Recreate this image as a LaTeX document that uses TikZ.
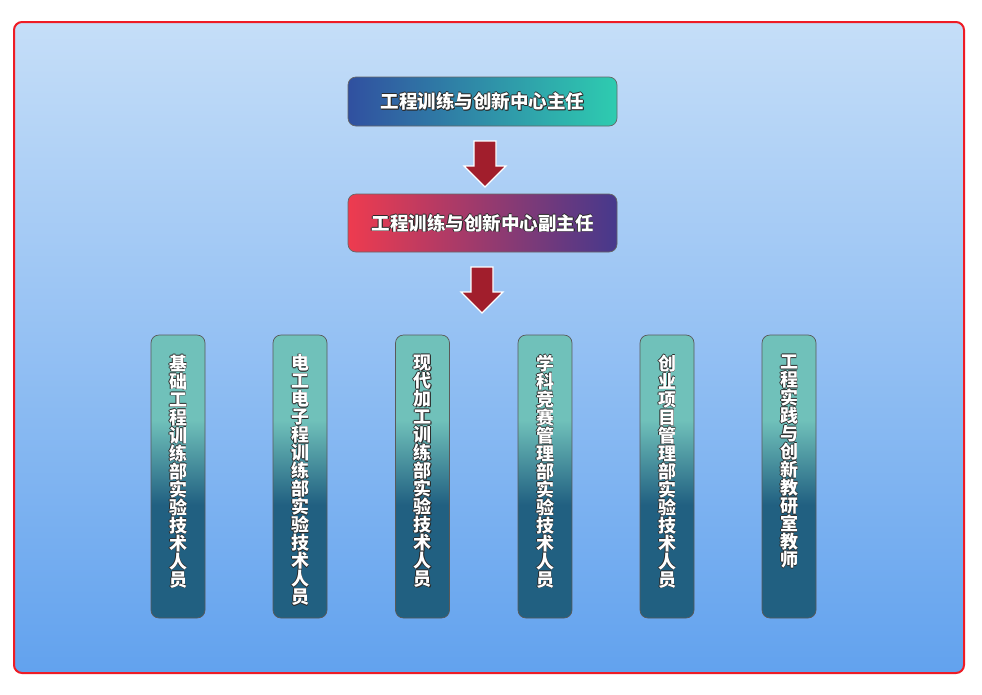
\documentclass[tikz,border=0pt]{standalone}
\usepackage{fontspec}
\newfontfamily\cjk{Noto Sans CJK SC}
\definecolor{bgtop}{HTML}{C5DEF8}
\definecolor{bgbot}{HTML}{62A2EE}
\definecolor{framered}{HTML}{EE1C25}
\definecolor{bal}{HTML}{3050A0}
\definecolor{bar}{HTML}{2ECCB0}
\definecolor{bbl}{HTML}{EE3B4F}
\definecolor{bbr}{HTML}{46398C}
\definecolor{arrred}{HTML}{A11E2C}
\definecolor{colt}{HTML}{70C1BA}
\definecolor{cold}{HTML}{216081}
\definecolor{txtsh}{HTML}{2A2A2A}
\pgfdeclareverticalshading{colshade}{100bp}{color(0bp)=(cold); color(25bp)=(cold); color(45bp)=(cold); color(60bp)=(colt); color(75bp)=(colt); color(100bp)=(colt)}
\newcommand\ol[1]{{\rlap{\kern0.8pt\raise-0.8pt\hbox{\color{txtsh}#1}}\rlap{\kern-0.6pt\hbox{\color{txtsh}#1}}\rlap{\kern0.6pt\hbox{\color{txtsh}#1}}\rlap{\raise0.6pt\hbox{\color{txtsh}#1}}\rlap{\raise-0.6pt\hbox{\color{txtsh}#1}}\hbox{\color{white}#1}}}
\makeatletter
\newcommand\vtext[1]{\vbox to 283pt{\baselineskip=18pt\lineskiplimit=-100pt\lineskip=0pt\vskip 19pt\@tfor\cc:=#1\do{\hbox to 54pt{\hss\ol{\cc}\hss}}\vss}}
\makeatother
\tikzset{
  lbl/.style={font=\cjk\bfseries\fontsize{18}{18}\selectfont},
  topbox/.style={font=\cjk\bfseries\fontsize{18.5}{18.5}\selectfont, draw=gray!80!black, line width=0.7pt, rounded corners=8pt, minimum width=269pt, inner sep=0pt},
  colbox/.style={lbl, draw=gray!70!black, line width=0.7pt, rounded corners=8pt, shading=colshade, minimum width=54pt, minimum height=283pt, inner sep=0pt},
  arrst/.style={fill=arrred, draw=white, line width=1.2pt, line join=miter},
  downarr/.pic={\draw[arrst] (-11,0) -- (11,0) -- (11,25) -- (21,25) -- (0,46) -- (-21,25) -- (-11,25) -- cycle;}
}
\begin{document}
\begin{tikzpicture}[x=1pt,y=-1pt]
\useasboundingbox (0,0) rectangle (982,694);
\fill[white] (0,0) rectangle (982,694);
\draw[framered, line width=2pt, rounded corners=8pt, top color=bgtop, bottom color=bgbot] (14,22) rectangle (964,673);
\node[topbox, minimum height=49pt, left color=bal, right color=bar] (chief) at (482.5,101.5) {\ol{工程训练与创新中心主任}};
\node[topbox, minimum height=58pt, left color=bbl, right color=bbr] (deputy) at (482.5,223) {\ol{工程训练与创新中心副主任}};
\pic at (485,141) {downarr};
\pic at (482,267) {downarr};
\node[colbox] (c1) at (178,476.5) {\vtext{基础工程训练部实验技术人员}};
\node[colbox] (c2) at (300,476.5) {\vtext{电工电子程训练部实验技术人员}};
\node[colbox] (c3) at (422.5,476.5) {\vtext{现代加工训练部实验技术人员}};
\node[colbox] (c4) at (545,476.5) {\vtext{学科竞赛管理部实验技术人员}};
\node[colbox] (c5) at (667,476.5) {\vtext{创业项目管理部实验技术人员}};
\node[colbox] (c6) at (789,476.5) {\vtext{工程实践与创新教研室教师}};
\end{tikzpicture}
\end{document}
